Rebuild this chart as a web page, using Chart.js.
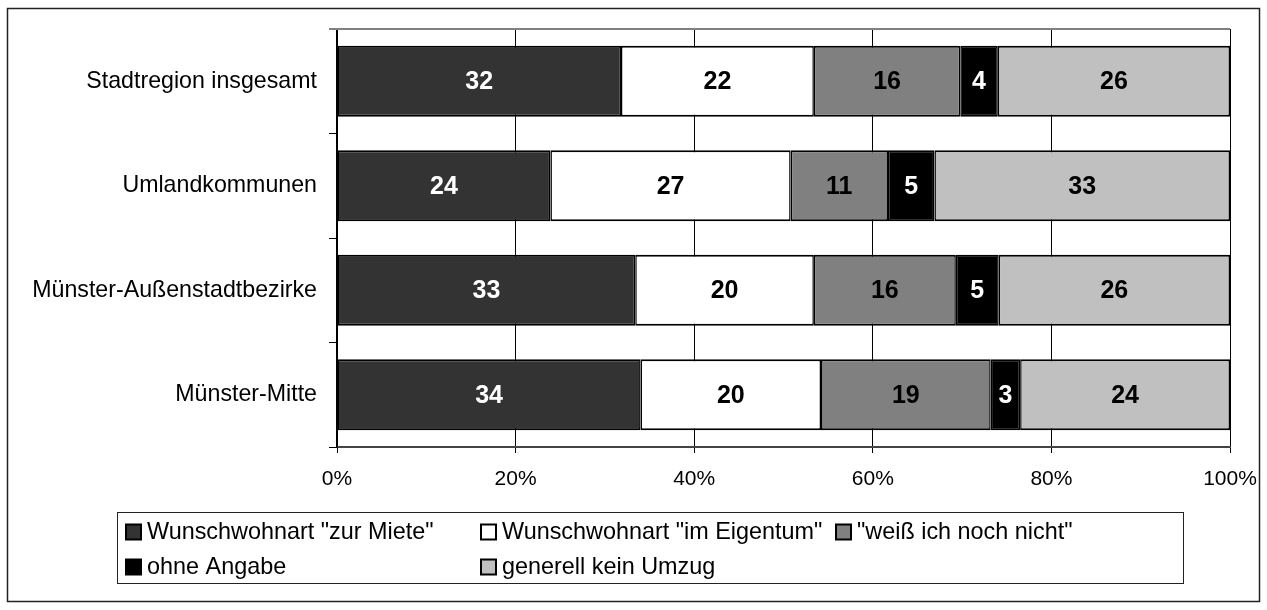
<!DOCTYPE html>
<html>
<head>
<meta charset="utf-8">
<script src="https://cdn.jsdelivr.net/npm/chart.js@4.4.1/dist/chart.umd.min.js"></script>
<style>
  html, body { margin: 0; padding: 0; background: #ffffff; }
  #wrap { width: 1267px; height: 610px; }
</style>
</head>
<body>
<div id="wrap"><canvas id="c" width="1267" height="610"></canvas></div>
<script>
// ---- data ----
const categories = ["Stadtregion insgesamt", "Umlandkommunen", "Münster-Außenstadtbezirke", "Münster-Mitte"];
const seriesNames = ['Wunschwohnart "zur Miete"', 'Wunschwohnart "im Eigentum"', '"weiß ich noch nicht"', 'ohne Angabe', 'generell kein Umzug'];
const zurMiete    = [31.8, 23.9, 33.4, 34.0];
const imEigentum  = [21.6, 26.9, 20.0, 20.2];
const weissNicht  = [16.4, 10.9, 15.9, 19.0];
const ohneAngabe  = [4.2, 5.2, 4.8, 3.3];
const keinUmzug   = [26.0, 33.1, 25.9, 23.5];
const xTicks = [0, 20, 40, 60, 80, 100];

// ---- styles ----
const FONT = '"Liberation Sans", Arial, Helvetica, sans-serif';
const fills = ['#333333', '#ffffff', '#808080', '#000000', '#c0c0c0'];
const labelColors = ['#ffffff', '#000000', '#000000', '#ffffff', '#000000'];
const seriesData = [zurMiete, imEigentum, weissNicht, ohneAngabe, keinUmzug];

const datasets = seriesData.map((d, i) => ({
  label: seriesNames[i],
  data: d,
  backgroundColor: fills[i],
  borderColor: '#000000',
  borderWidth: { top: 2, bottom: 2, left: 1.5, right: 1.5 },
  borderSkipped: false,
  categoryPercentage: 1.0,
  barPercentage: 0.68
}));

const frame = {
  id: 'frame',
  beforeDraw(chart) {
    const ctx = chart.ctx;
    ctx.save();
    ctx.fillStyle = '#ffffff';
    ctx.fillRect(0, 0, chart.width, chart.height);
    ctx.strokeStyle = '#222222';
    ctx.lineWidth = 1.5;
    ctx.strokeRect(7.5, 8.5, 1252, 593);
    ctx.restore();
  },
  beforeDatasetsDraw(chart) {
    const a = chart.chartArea;
    const ctx = chart.ctx;
    ctx.save();
    ctx.strokeStyle = '#808080';
    ctx.lineWidth = 2;
    ctx.beginPath();
    ctx.moveTo(a.left - 8, a.top);
    ctx.lineTo(a.right, a.top);
    ctx.stroke();
    ctx.restore();
  }
};

const valueLabels = {
  id: 'valueLabels',
  afterDatasetsDraw(chart) {
    const ctx = chart.ctx;
    chart.data.datasets.forEach((ds, i) => {
      const meta = chart.getDatasetMeta(i);
      meta.data.forEach((el, j) => {
        const p = el.getProps(['x', 'y', 'base'], true);
        ctx.save();
        ctx.font = 'bold 25px ' + FONT;
        ctx.fillStyle = labelColors[i];
        ctx.textAlign = 'center';
        ctx.textBaseline = 'middle';
        ctx.fillText(String(Math.round(ds.data[j])), (p.x + p.base) / 2, p.y + 1);
        ctx.restore();
      });
    });
  }
};

const gridLegend = {
  id: 'gridLegend',
  afterDraw(chart) {
    const ctx = chart.ctx;
    const box = { x: 117.5, y: 512.5, w: 1066, h: 71 };
    ctx.save();
    ctx.strokeStyle = '#222222';
    ctx.lineWidth = 1;
    ctx.strokeRect(box.x, box.y, box.w, box.h);
    const colStep = 355;
    const rows = [532, 567];
    ctx.font = '23.4px ' + FONT;
    ctx.textBaseline = 'middle';
    ctx.textAlign = 'left';
    chart.data.datasets.forEach((ds, i) => {
      const col = i % 3, row = Math.floor(i / 3);
      const mx = 126 + col * colStep;
      const my = rows[row];
      ctx.fillStyle = ds.backgroundColor;
      ctx.fillRect(mx, my - 7.5, 15, 15);
      ctx.strokeStyle = '#000000';
      ctx.lineWidth = 2;
      ctx.strokeRect(mx, my - 7.5, 15, 15);
      ctx.fillStyle = '#000000';
      ctx.fillText(ds.label, mx + 21, my + 1);
    });
    ctx.restore();
  }
};

new Chart(document.getElementById('c'), {
  type: 'bar',
  data: { labels: categories, datasets },
  plugins: [frame, valueLabels, gridLegend],
  options: {
    indexAxis: 'y',
    responsive: false,
    devicePixelRatio: 1,
    animation: false,
    layout: { padding: { top: 29, right: 37, bottom: 0, left: 0 } },
    plugins: { legend: { display: false }, tooltip: { enabled: false } },
    scales: {
      x: {
        stacked: true,
        min: 0, max: 100,
        afterBuildTicks(scale) { scale.ticks = xTicks.map(v => ({ value: v })); },
        afterFit(scale) {
          scale.height = 610 - 447;
          scale.paddingLeft = 0;
          scale.paddingRight = 0;
        },
        ticks: {
          callback: v => v + '%',
          color: '#000000',
          padding: 14,
          maxRotation: 0,
          font: { family: FONT, size: 21 }
        },
        grid: { color: '#000000', lineWidth: 1, tickLength: 6, tickColor: '#000000', drawOnChartArea: true },
        border: { display: true, color: '#444444', width: 2 }
      },
      y: {
        stacked: true,
        afterFit(scale) {
          scale.width = 337;
          scale.paddingTop = 0;
          scale.paddingBottom = 0;
        },
        ticks: {
          color: '#000000',
          padding: 12,
          font: { family: FONT, size: 23.2 }
        },
        grid: { offset: true, drawOnChartArea: false, tickLength: 8, tickColor: '#000000', color: '#000000' },
        border: { display: true, color: '#000000', width: 1.5 }
      }
    }
  }
});
</script>
</body>
</html>
